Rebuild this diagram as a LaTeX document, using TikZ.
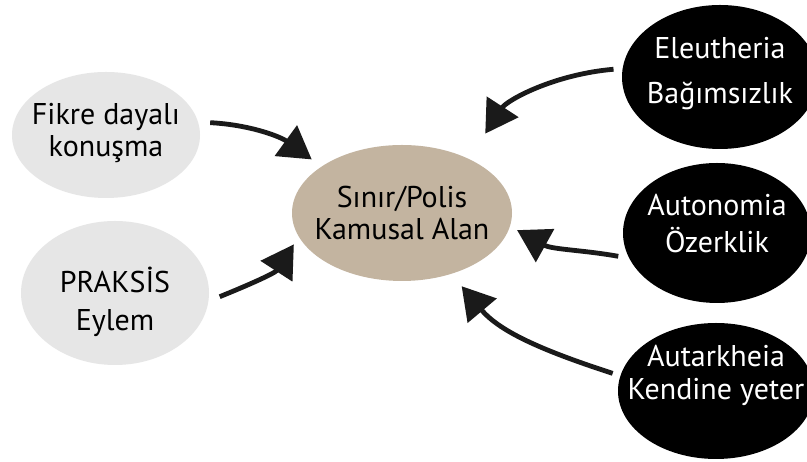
\documentclass[tikz,border=0pt]{standalone}
\usepackage{fontspec}
\setmainfont{PT Sans}
\usetikzlibrary{shapes.geometric,arrows.meta}
\definecolor{graybg}{RGB}{230,230,230}
\definecolor{tanbg}{RGB}{195,180,160}
\definecolor{arrowc}{RGB}{26,26,26}
\tikzset{
  ell/.style={ellipse, inner sep=0pt},
  txt/.style={align=center, inner sep=0pt, font=\fontsize{30}{32}\selectfont},
  grayell/.style={ell, fill=graybg},
  tanell/.style={ell, fill=tanbg},
  blackell/.style={ell, fill=black},
  darktxt/.style={txt, text=black},
  lighttxt/.style={txt, text=white, font=\fontsize{30}{37}\selectfont},
  arr/.style={draw=arrowc, line width=4.8pt,
    -{Triangle[length=32pt,width=37pt]}}
}
\begin{document}
\begin{tikzpicture}[x=1pt,y=1pt]
\useasboundingbox (0,0) rectangle (807,462);
\clip (0,0) rectangle (807,462);
\fill[white] (0,0) rectangle (807,462);
% left nodes
\node[grayell, minimum width=188pt, minimum height=126pt,
  label={[darktxt, yshift=2pt]center:Fikre dayalı\\konuşma}] (g1) at (106,327) {};
\node[grayell, minimum width=188pt, minimum height=144pt,
  label={[darktxt, yshift=-9pt]center:PRAKSİS\\[6pt]Eylem}] (g2) at (115,169) {};
% centre
\node[tanell, minimum width=220pt, minimum height=136pt,
  label={[darktxt]center:Sınır/Polis\\Kamusal Alan}] (c) at (402,249) {};
% right nodes
\node[blackell, minimum width=196pt, minimum height=144pt,
  label={[lighttxt, yshift=3pt]center:Eleutheria\\[8pt]Bağımsızlık}] (b1) at (720,385) {};
\node[blackell, minimum width=188pt, minimum height=140pt,
  label={[lighttxt, yshift=9pt]center:Autonomia\\Özerklik}] (b2) at (717,229) {};
\node[blackell, minimum width=196pt, minimum height=136pt,
  label={[lighttxt, yshift=16pt]center:Autarkheia\\[-4pt]Kendine yeter}] (b3) at (716,71) {};
% arrows
\draw[arr, shorten <=12pt, shorten >=12pt] (g1.8) to[out=-3, in=144] (c.150);
\draw[arr, shorten <=12pt, shorten >=9pt] (g2.-5) to[out=22, in=237] (c.193);
\draw[arr, shorten <=9pt, shorten >=30pt] (b1.175) to[out=185, in=57] (c.39);
\draw[arr, shorten <=11pt, shorten >=8pt] (b2.196) to[out=170, in=-29] (c.-7);
\draw[arr, shorten <=8pt, shorten >=16pt] (b3.171) to[out=162, in=-50] (c.-51);
\end{tikzpicture}
\end{document}
